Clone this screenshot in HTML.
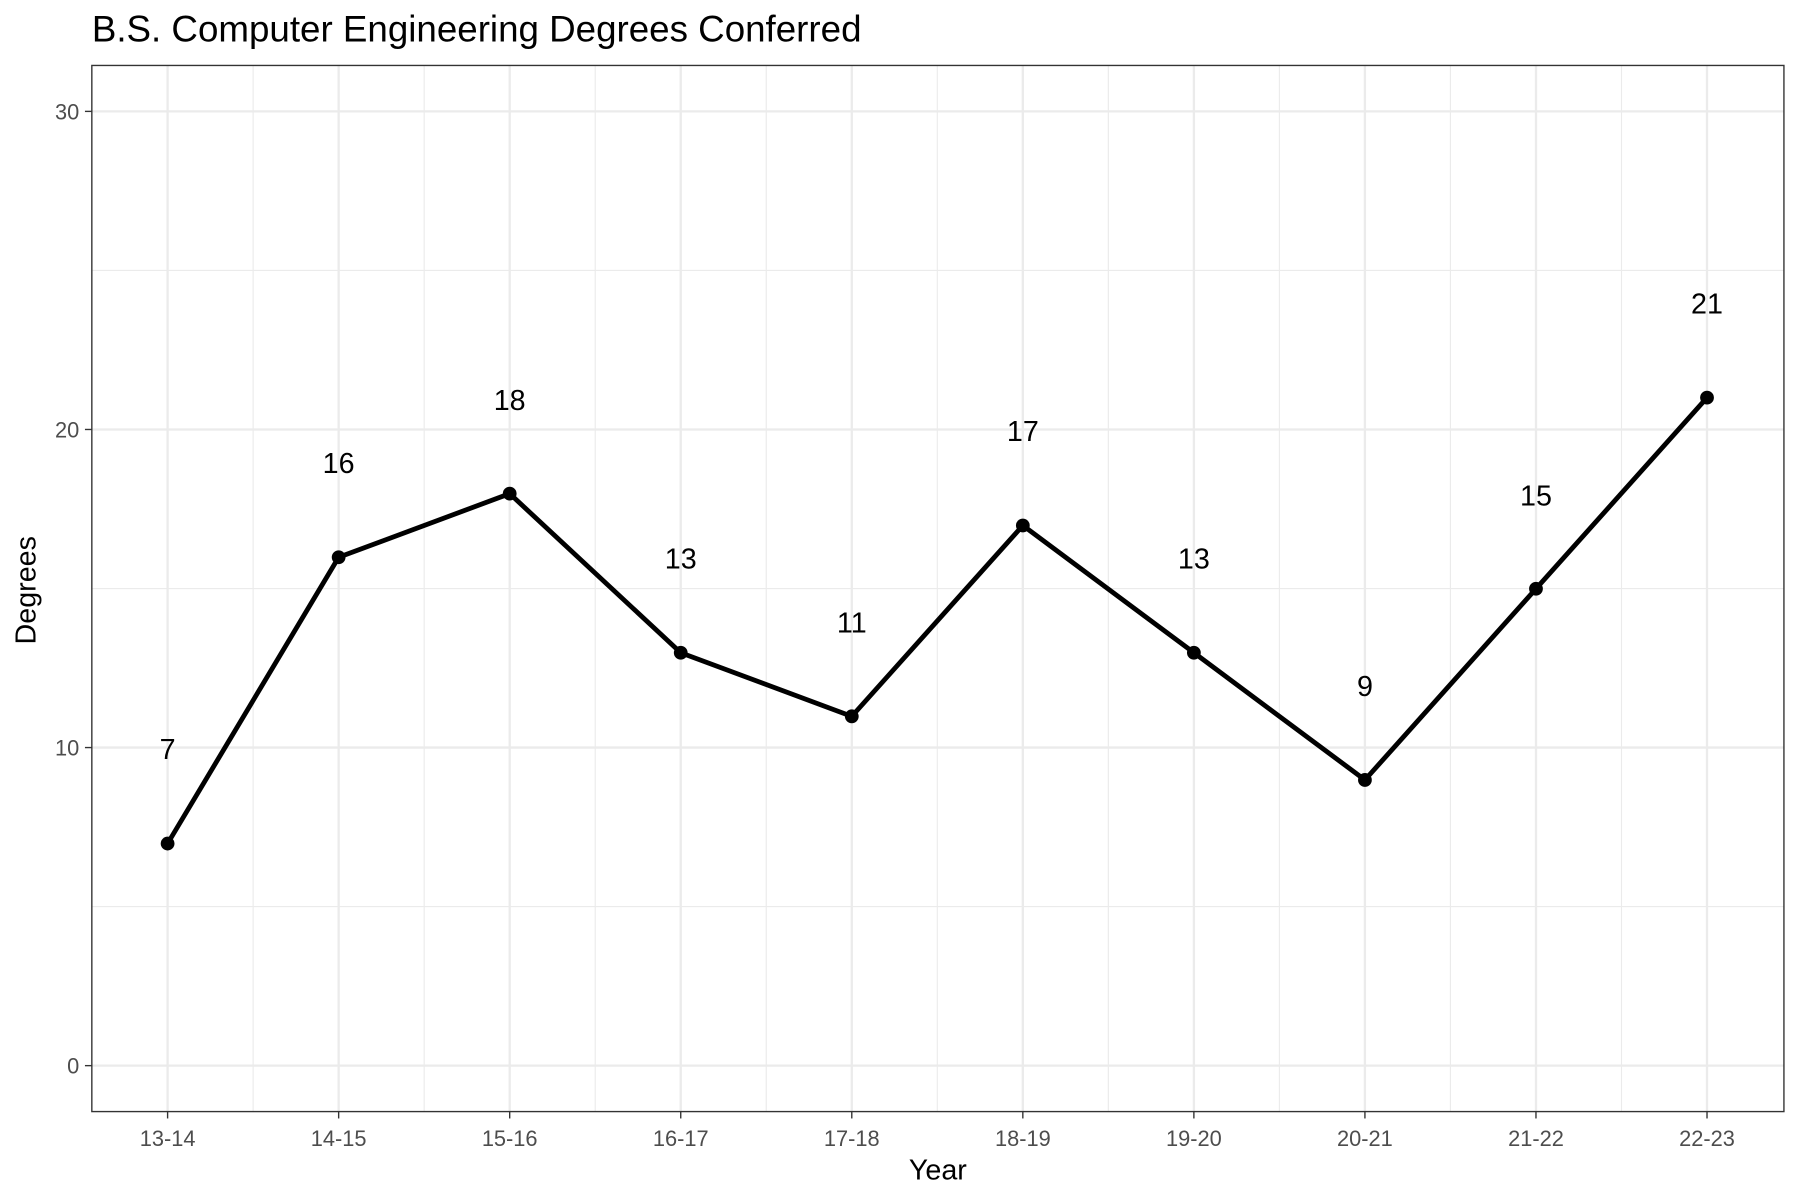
<!DOCTYPE html>
<html><head><meta charset="utf-8"><style>html,body{margin:0;padding:0;background:#fff}svg{display:block}</style></head>
<body>
<svg width="1800" height="1200" viewBox="0 0 1568 1045" preserveAspectRatio="none" xmlns="http://www.w3.org/2000/svg" font-family="Liberation Sans, Arial, sans-serif">
<rect width="1568" height="1045" fill="#fff"/>
<text x="80" y="36" font-size="32" fill="#000">B.S. Computer Engineering Degrees Conferred</text>
<g stroke="#ebebeb" stroke-width="1">
<line x1="80" x2="1554" y1="789.5" y2="789.5"/><line x1="80" x2="1554" y1="512.5" y2="512.5"/><line x1="80" x2="1554" y1="235.5" y2="235.5"/>
<line x1="220.5" x2="220.5" y1="57" y2="968"/><line x1="369.5" x2="369.5" y1="57" y2="968"/><line x1="518.5" x2="518.5" y1="57" y2="968"/><line x1="667.5" x2="667.5" y1="57" y2="968"/><line x1="816.5" x2="816.5" y1="57" y2="968"/><line x1="965.5" x2="965.5" y1="57" y2="968"/><line x1="1114.5" x2="1114.5" y1="57" y2="968"/><line x1="1263.5" x2="1263.5" y1="57" y2="968"/><line x1="1412.5" x2="1412.5" y1="57" y2="968"/>
</g>
<g stroke="#ebebeb" stroke-width="2">
<line x1="80" x2="1554" y1="928" y2="928"/><line x1="80" x2="1554" y1="651" y2="651"/><line x1="80" x2="1554" y1="374" y2="374"/><line x1="80" x2="1554" y1="97" y2="97"/>
<line x1="146" x2="146" y1="57" y2="968"/><line x1="295" x2="295" y1="57" y2="968"/><line x1="444" x2="444" y1="57" y2="968"/><line x1="593" x2="593" y1="57" y2="968"/><line x1="742" x2="742" y1="57" y2="968"/><line x1="891" x2="891" y1="57" y2="968"/><line x1="1040" x2="1040" y1="57" y2="968"/><line x1="1189" x2="1189" y1="57" y2="968"/><line x1="1338" x2="1338" y1="57" y2="968"/><line x1="1487" x2="1487" y1="57" y2="968"/>
</g>
<rect x="80" y="57" width="1474" height="911" fill="none" stroke="#333" stroke-width="1.2"/>
<polyline fill="none" stroke="#000" stroke-width="4.2" stroke-linejoin="round" points="146,734.6 295,485.3 444,429.9 593,568.4 742,623.8 891,457.6 1040,568.4 1189,679.2 1338,512.7 1487,346.3"/>
<g fill="#000">
<circle cx="146" cy="734.6" r="6"/><circle cx="295" cy="485.3" r="6"/><circle cx="444" cy="429.9" r="6"/><circle cx="593" cy="568.4" r="6"/><circle cx="742" cy="623.8" r="6"/><circle cx="891" cy="457.6" r="6"/><circle cx="1040" cy="568.4" r="6"/><circle cx="1189" cy="679.2" r="6"/><circle cx="1338" cy="512.7" r="6"/><circle cx="1487" cy="346.3" r="6"/>
</g>
<g font-size="25" text-anchor="middle" fill="#000">
<text x="146" y="661">7</text><text x="295" y="412">16</text><text x="444" y="357">18</text><text x="593" y="495">13</text><text x="742" y="551">11</text><text x="891" y="384">17</text><text x="1040" y="495">13</text><text x="1189" y="606">9</text><text x="1338" y="440">15</text><text x="1487" y="273">21</text>
</g>
<g stroke="#333" stroke-width="1.2">
<line x1="74" x2="80" y1="928" y2="928"/><line x1="74" x2="80" y1="651" y2="651"/><line x1="74" x2="80" y1="374" y2="374"/><line x1="74" x2="80" y1="97" y2="97"/>
<line x1="146" x2="146" y1="968" y2="974"/><line x1="295" x2="295" y1="968" y2="974"/><line x1="444" x2="444" y1="968" y2="974"/><line x1="593" x2="593" y1="968" y2="974"/><line x1="742" x2="742" y1="968" y2="974"/><line x1="891" x2="891" y1="968" y2="974"/><line x1="1040" x2="1040" y1="968" y2="974"/><line x1="1189" x2="1189" y1="968" y2="974"/><line x1="1338" x2="1338" y1="968" y2="974"/><line x1="1487" x2="1487" y1="968" y2="974"/>
</g>
<g font-size="19" fill="#4d4d4d" text-anchor="end">
<text x="69" y="935">0</text><text x="69" y="658">10</text><text x="69" y="381">20</text><text x="69" y="104">30</text>
</g>
<g font-size="19" fill="#4d4d4d" text-anchor="middle">
<text x="146" y="998">13-14</text><text x="295" y="998">14-15</text><text x="444" y="998">15-16</text><text x="593" y="998">16-17</text><text x="742" y="998">17-18</text><text x="891" y="998">18-19</text><text x="1040" y="998">19-20</text><text x="1189" y="998">20-21</text><text x="1338" y="998">21-22</text><text x="1487" y="998">22-23</text>
</g>
<text x="817" y="1027" font-size="25" text-anchor="middle" fill="#000">Year</text>
<text transform="translate(31,514) rotate(-90)" font-size="25" text-anchor="middle" fill="#000">Degrees</text>
</svg>
</body></html>
